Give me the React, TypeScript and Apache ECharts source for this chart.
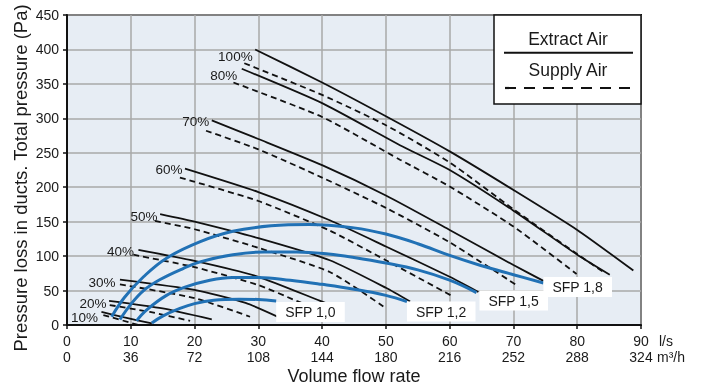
import React, { useEffect, useRef } from 'react';
import * as echarts from 'echarts';

// Tick labels
const flowLs = [0, 10, 20, 30, 40, 50, 60, 70, 80, 90];
const flowM3h = [0, 36, 72, 108, 144, 180, 216, 252, 288, 324];

// Extract air (solid) curves [l/s, Pa]
const extract10 = [[5.4, 19], [9, 11], [13.3, 2.4]];
const extract20 = [[6.6, 35], [15, 24], [22.7, 8]];
const extract30 = [[8.3, 66], [20, 51], [28, 32], [33.5, 10]];
const extract40 = [[11.2, 109], [20, 93], [30, 70], [39.7, 35], [43, 23]];
const extract50 = [[14.6, 161], [20, 150], [30, 126], [41.2, 94], [50, 54], [53.8, 34]];
const extract60 = [[18.5, 227], [30, 193], [41.2, 152], [50, 114], [60, 70], [64.5, 48]];
const extract70 = [[22.7, 297], [30, 270], [40, 232], [50, 188], [60, 138], [70, 87], [74.7, 64]];
const extract80 = [[27.4, 372], [40, 322], [52.2, 261], [60, 225], [70, 166], [80, 102], [85.1, 73]];
const extract100 = [[29.5, 400], [40, 352], [50, 303], [60, 252], [70, 196], [80, 138], [88.8, 79]];

// Supply air (dashed) curves
const supply10 = [[5.7, 14.5], [11.2, 0]];
const supply20 = [[6.7, 29], [13, 19], [19.3, 6]];
const supply30 = [[8.3, 59], [20, 39], [28.7, 12]];
const supply40 = [[10.4, 102], [20, 84], [30, 58], [36, 35], [39.5, 22]];
const supply50 = [[13.8, 151], [20, 139], [30, 112], [41.2, 77], [49.6, 27]];
const supply60 = [[17.7, 214], [30, 180], [41.2, 137], [50, 94], [60.6, 41]];
const supply70 = [[21.8, 282], [30, 255], [40, 214], [50, 170], [60, 120], [70.8, 56]];
const supply80 = [[26.1, 352], [40, 302], [52.2, 240], [60, 201], [70, 143], [79.9, 74]];
const supply100 = [[27.8, 380], [40, 334], [50, 290], [60, 236], [70, 168], [80, 103], [84.1, 77]];

// SFP curves
const sfp10 = [[13.3, 3], [15, 13], [17.7, 24], [20, 31], [23, 36], [27, 37.5], [30, 37], [32.8, 35]];
const sfp12 = [[10.9, 6], [12.5, 22], [15.6, 43], [18.5, 55], [22.4, 65], [26, 69], [30, 69], [35, 65], [40, 59], [45, 52], [50, 43], [53.3, 34]];
const sfp15 = [[8.3, 8], [10, 30], [12, 50], [14.6, 66], [18.2, 82], [21, 92], [26, 102], [31, 106], [36, 106], [41, 103], [45, 98], [50, 90], [55, 80], [60, 65], [64.2, 47]];
const sfp18 = [[7, 12], [9, 40], [12, 70], [15.6, 97], [20.9, 121], [26, 136], [32, 144], [38, 146], [45, 141], [50, 132], [55, 118], [60, 101], [65, 86], [70, 73], [74.7, 61]];

const pctLabels = ['10%', '20%', '30%', '40%', '50%', '60%', '70%', '80%', '100%'];
const sfpLabels = ['SFP 1,0', 'SFP 1,2', 'SFP 1,5', 'SFP 1,8'];

const extractLines = [extract10, extract20, extract30, extract40, extract50, extract60, extract70, extract80, extract100];
const supplyLines = [supply10, supply20, supply30, supply40, supply50, supply60, supply70, supply80, supply100];
const sfpLines = [sfp10, sfp12, sfp15, sfp18];

// label styling offsets (not data)
const sfpLabelOffsets = [[0, 11], [0, 10], [3, 8], [0, 4]];
const pctLabelOffsets = [[-1, 6], [0, 2.5], [-2, 3], [-2, 2], [0, 2.5], [0, 1], [0, 1.5], [-2, 6.5], [0, 6.7]];

const FONT = '"Liberation Sans", Arial, Helvetica, sans-serif';

export default function App() {
  const ref = useRef<HTMLDivElement>(null);

  useEffect(() => {
    if (!ref.current) return;
    const chart = echarts.init(ref.current, undefined, { renderer: 'svg' });

    const series: any[] = [];
    extractLines.forEach((d, i) => {
      series.push({
        name: 'Extract ' + pctLabels[i],
        type: 'line',
        data: d,
        symbol: 'none',
        smooth: 0.2,
        silent: true,
        z: 2,
        lineStyle: { color: '#111', width: 1.8, type: 'solid' },
      });
    });
    supplyLines.forEach((d, i) => {
      series.push({
        name: 'Supply ' + pctLabels[i],
        type: 'line',
        data: d,
        symbol: 'none',
        smooth: 0.2,
        silent: true,
        z: 2,
        lineStyle: { color: '#111', width: 1.8, type: [6, 4] },
      });
    });
    sfpLines.forEach((d, i) => {
      series.push({
        name: sfpLabels[i],
        type: 'line',
        data: d,
        symbol: 'none',
        smooth: 0.4,
        silent: true,
        z: 5,
        lineStyle: { color: '#2171b5', width: 3 },
        endLabel: {
          show: true,
          formatter: sfpLabels[i],
          distance: 0,
          offset: sfpLabelOffsets[i],
          fontSize: 14,
          fontFamily: FONT,
          color: '#1a1a1a',
          backgroundColor: '#ffffff',
          padding: [3, 9, 3, 9],
        },
      });
    });
    series.push({
      name: 'pct',
      type: 'scatter',
      data: extractLines.map((d, i) => ({ value: d[0], label: { offset: pctLabelOffsets[i] } })),
      symbolSize: 1,
      silent: true,
      z: 6,
      itemStyle: { color: 'rgba(0,0,0,0)', opacity: 1 },
      label: {
        show: true,
        position: 'left',
        distance: 2,
        formatter: (p: any) => pctLabels[p.dataIndex],
        fontSize: 13.5,
        lineHeight: 12,
        fontFamily: FONT,
        color: '#1a1a1a',
        opacity: 1,
      },
    });

    chart.setOption({
      animation: false,
      textStyle: { fontFamily: FONT },
      grid: {
        left: 67,
        right: 61,
        top: 15,
        bottom: 62,
        outerBoundsMode: 'none',
        containLabel: false,
        show: true,
        backgroundColor: '#e7edf4',
        borderColor: '#111',
        borderWidth: 2,
      },
      xAxis: {
        type: 'value',
        min: 0,
        max: 90,
        interval: 10,
        name: 'Volume flow rate',
        nameLocation: 'middle',
        nameGap: 42,
        nameMoveOverlap: false,
        nameTextStyle: { fontSize: 18, lineHeight: 18, color: '#1a1a1a', fontFamily: FONT },
        axisLine: { show: true, lineStyle: { color: '#111', width: 2 } },
        axisTick: { show: true, length: 4, lineStyle: { color: '#111', width: 1.5 } },
        axisLabel: {
          margin: 8,
          fontSize: 14,
          lineHeight: 16,
          color: '#1a1a1a',
          fontFamily: FONT,
          formatter: (v: number) => {
            const i = flowLs.indexOf(v);
            return i >= 0 ? `${flowLs[i]}\n${flowM3h[i]}` : '';
          },
        },
        splitLine: { show: true, lineStyle: { color: '#a9a9a9', width: 1.5 } },
      },
      yAxis: {
        type: 'value',
        min: 0,
        max: 450,
        interval: 50,
        name: 'Pressure loss in ducts. Total pressure (Pa)',
        nameLocation: 'middle',
        nameGap: 37,
        nameMoveOverlap: false,
        nameTextStyle: { fontSize: 18.5, color: '#1a1a1a', fontFamily: FONT, padding: [0, 16, 0, 0] },
        axisLine: { show: true, lineStyle: { color: '#111', width: 2 } },
        axisTick: { show: true, length: 4, lineStyle: { color: '#111', width: 1.5 } },
        axisLabel: { margin: 8, fontSize: 14, color: '#1a1a1a', fontFamily: FONT },
        splitLine: { show: true, lineStyle: { color: '#a9a9a9', width: 1.5 } },
      },
      graphic: [
        {
          type: 'rect',
          shape: { x: 494, y: 15, width: 147, height: 89 },
          style: { fill: '#ffffff', stroke: '#111', lineWidth: 1.5 },
          z: 10,
        },
        {
          type: 'text',
          x: 568,
          y: 39,
          style: { text: 'Extract Air', fontSize: 17.5, fontFamily: FONT, fill: '#1a1a1a', align: 'center', verticalAlign: 'middle' },
          z: 11,
        },
        {
          type: 'line',
          shape: { x1: 504, y1: 52.7, x2: 633, y2: 52.7 },
          style: { stroke: '#111', lineWidth: 2 },
          z: 11,
        },
        {
          type: 'text',
          x: 568,
          y: 70,
          style: { text: 'Supply Air', fontSize: 17.5, fontFamily: FONT, fill: '#1a1a1a', align: 'center', verticalAlign: 'middle' },
          z: 11,
        },
        {
          type: 'line',
          shape: { x1: 505, y1: 88, x2: 633, y2: 88 },
          style: { stroke: '#111', lineWidth: 2.2, lineDash: [11, 8] },
          z: 11,
        },
        {
          type: 'text',
          x: 659,
          y: 341,
          style: { text: 'l/s', fontSize: 14, fontFamily: FONT, fill: '#1a1a1a', align: 'left', verticalAlign: 'middle' },
        },
        {
          type: 'text',
          x: 657,
          y: 357,
          style: { text: 'm³/h', fontSize: 14, fontFamily: FONT, fill: '#1a1a1a', align: 'left', verticalAlign: 'middle' },
        },
      ],
      series,
    });

    return () => chart.dispose();
  }, []);

  return <div ref={ref} style={{ position: 'fixed', left: 0, top: 0, width: 702, height: 387 }} />;
}
